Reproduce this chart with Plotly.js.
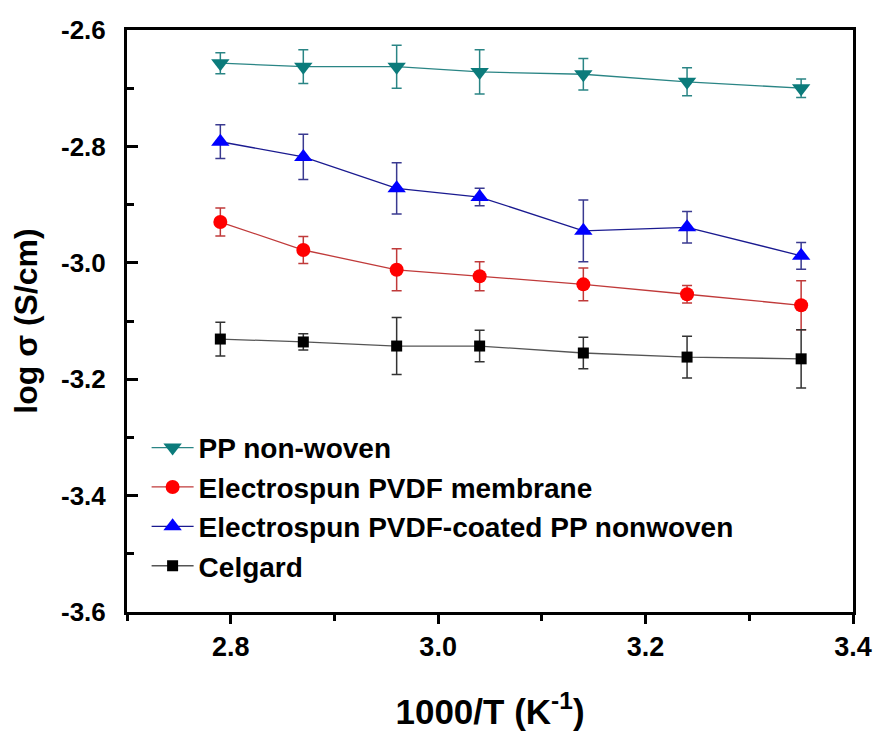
<!DOCTYPE html>
<html>
<head>
<meta charset="utf-8">
<script src="https://cdn.plot.ly/plotly-3.0.1.min.js"></script>
<style>html,body{margin:0;padding:0;background:#fff;}</style>
</head>
<body>
<div id="chart" style="width:875px;height:731px;"></div>
<script>
// 1000/T values (K^-1)
const invT = [2.79, 2.87, 2.96, 3.04, 3.14, 3.24, 3.35];

const ppNonwoven    = [-2.657, -2.663, -2.663, -2.672, -2.676, -2.689, -2.700];
const ppNonwovenErr = [0.018, 0.029, 0.037, 0.038, 0.027, 0.024, 0.016];

const pvdfMembrane    = [-2.930, -2.978, -3.012, -3.023, -3.037, -3.054, -3.073];
const pvdfMembraneErr = [0.024, 0.023, 0.036, 0.025, 0.028, 0.015, 0.042];

const pvdfCoated    = [-2.792, -2.818, -2.872, -2.887, -2.945, -2.939, -2.988];
const pvdfCoatedErr = [0.029, 0.039, 0.044, 0.015, 0.053, 0.027, 0.023];

const celgard    = [-3.131, -3.136, -3.143, -3.143, -3.155, -3.162, -3.165];
const celgardErr = [0.029, 0.014, 0.049, 0.027, 0.027, 0.036, 0.050];

const seriesNames = ["PP non-woven", "Electrospun PVDF membrane", "Electrospun PVDF-coated PP nonwoven", "Celgard"];

const xTickVals = [2.8, 3.0, 3.2, 3.4];
const xTickText = ["2.8", "3.0", "3.2", "3.4"];
const yTickVals = [-2.6, -2.8, -3.0, -3.2, -3.4, -3.6];
const yTickText = ["-2.6", "-2.8", "-3.0", "-3.2", "-3.4", "-3.6"];

function trace(name, y, err, markerColor, lineColor, errColor, symbol, size) {
  return {
    x: invT, y: y, name: name, type: 'scatter', mode: 'lines+markers',
    line: {color: lineColor, width: 1.3},
    marker: {color: markerColor, symbol: symbol, size: size, line: {width: 0}},
    error_y: {type: 'data', array: err, visible: true, color: errColor, thickness: 1.5, width: 5}
  };
}

const data = [
  trace(seriesNames[0], ppNonwoven, ppNonwovenErr, '#0b7b7b', '#2a8585', '#2a8585', 'triangle-down', 16),
  trace(seriesNames[1], pvdfMembrane, pvdfMembraneErr, '#ff0000', '#c03a3a', '#c03a3a', 'circle', 14),
  trace(seriesNames[2], pvdfCoated, pvdfCoatedErr, '#0000ff', '#1a1a90', '#3a3a90', 'triangle-up', 16),
  trace(seriesNames[3], celgard, celgardErr, '#000000', '#555555', '#333333', 'square', 11)
];

const fontFam = 'Arial, "Liberation Sans", sans-serif';

const layout = {
  width: 875, height: 731,
  margin: {l: 127, r: 22, t: 30, b: 119},
  paper_bgcolor: '#ffffff', plot_bgcolor: '#ffffff',
  showlegend: true,
  legend: {
    x: 0.027, y: 0.325, xanchor: 'left', yanchor: 'top',
    bgcolor: 'rgba(0,0,0,0)',
    font: {family: fontFam, size: 28, color: '#000', weight: 'bold'},
    itemwidth: 42, tracegroupgap: 0
  },
  xaxis: {
    range: [2.7, 3.4],
    tickmode: 'array', tickvals: xTickVals, ticktext: xTickText,
    ticks: 'outside', ticklen: 9, tickwidth: 3, tickcolor: '#000',
    minor: {ticks: 'outside', ticklen: 6, tickwidth: 3, dtick: 0.1, tick0: 2.7, tickcolor: '#000'},
    showline: true, linewidth: 3, linecolor: '#000', mirror: true,
    showgrid: false, zeroline: false,
    tickfont: {family: fontFam, size: 27, color: '#000', weight: 'bold'},
    title: {text: '1000/T (K<sup>-1</sup>)', font: {family: fontFam, size: 35, color: '#000', weight: 'bold'}, standoff: 42}
  },
  yaxis: {
    range: [-3.6, -2.6],
    tickmode: 'array', tickvals: yTickVals, ticktext: yTickText,
    ticks: 'inside', ticklen: 11, tickwidth: 3, tickcolor: '#000',
    minor: {ticks: 'inside', ticklen: 7, tickwidth: 3, dtick: 0.1, tick0: -3.6, tickcolor: '#000'},
    showline: true, linewidth: 3, linecolor: '#000', mirror: true,
    showgrid: false, zeroline: false,
    tickfont: {family: fontFam, size: 26, color: '#000', weight: 'bold'},
    ticklabelstandoff: 13,
    title: {text: 'log σ (S/cm)', font: {family: fontFam, size: 32, color: '#000', weight: 'bold'}, standoff: 14}
  }
};

Plotly.newPlot('chart', data, layout, {displayModeBar: false, staticPlot: true});
</script>
</body>
</html>
